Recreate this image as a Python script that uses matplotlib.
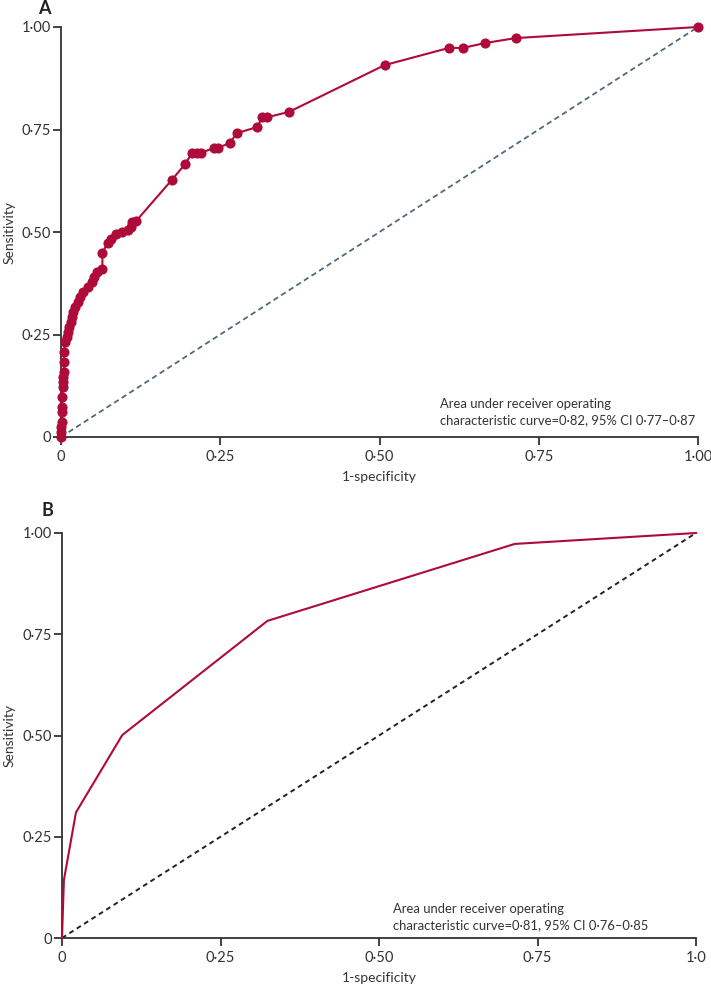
import matplotlib
matplotlib.use("Agg")
import matplotlib.pyplot as plt

plt.rcParams['font.family'] = ['Lato', 'DejaVu Sans']

# Panel A data (1-specificity, sensitivity)
fpr_a = [0, 0, 0, 0.0016, 0.0016, 0.0016, 0.0016, 0.003, 0.003, 0.003, 0.005, 0.005,
         0.005, 0.006, 0.009, 0.011, 0.013, 0.016, 0.017, 0.019, 0.022, 0.026, 0.030,
         0.035, 0.042, 0.048, 0.052, 0.057, 0.065, 0.065, 0.073, 0.078, 0.087, 0.095,
         0.105, 0.110, 0.112, 0.118, 0.174, 0.195, 0.206, 0.213, 0.220, 0.240, 0.246,
         0.265, 0.276, 0.308, 0.316, 0.324, 0.358, 0.508, 0.609, 0.631, 0.666, 0.714, 1.0]
tpr_a = [0, 0.012, 0.024, 0.037, 0.061, 0.073, 0.098, 0.122, 0.134, 0.146, 0.159, 0.183,
         0.207, 0.232, 0.244, 0.256, 0.268, 0.280, 0.293, 0.305, 0.317, 0.329, 0.341,
         0.354, 0.366, 0.378, 0.390, 0.402, 0.410, 0.449, 0.473, 0.483, 0.495, 0.500,
         0.505, 0.512, 0.524, 0.527, 0.627, 0.666, 0.693, 0.693, 0.693, 0.705, 0.705,
         0.717, 0.741, 0.756, 0.780, 0.780, 0.793, 0.907, 0.949, 0.949, 0.961, 0.973, 1.0]

# Panel B data
fpr_b = [0, 0.003, 0.022, 0.095, 0.324, 0.714, 1.0]
tpr_b = [0, 0.143, 0.310, 0.501, 0.783, 0.973, 1.0]

ticks = [0, 0.25, 0.5, 0.75, 1.0]
tick_labels = ["0", "0·25", "0·50", "0·75", "1·00"]
tick_labels_bx = ["0", "0·25", "0·50", "0·75", "1·0"]

text_a = "Area under receiver operating\ncharacteristic curve=0·82, 95% CI 0·77–0·87"
text_b = "Area under receiver operating\ncharacteristic curve=0·81, 95% CI 0·76–0·85"

RED = '#AE0B3A'
TXT = '#333333'
W, H = 711, 985
fig = plt.figure(figsize=(W / 100, H / 100), dpi=100)

def box(l, t, r, b):
    return [l / W, 1 - b / H, (r - l) / W, (b - t) / H]

axA = fig.add_axes(box(61, 27, 698, 437))
axB = fig.add_axes(box(62, 533, 696, 938))

def style(ax, xlabels):
    ax.set_xlim(0, 1)
    ax.set_ylim(0, 1)
    for s in ['top', 'right']:
        ax.spines[s].set_visible(False)
    for s in ['left', 'bottom']:
        ax.spines[s].set_color(TXT)
        ax.spines[s].set_linewidth(1.3)
    ax.set_xticks(ticks)
    ax.set_xticklabels(xlabels)
    ax.set_yticks(ticks)
    ax.set_yticklabels(tick_labels)
    ax.tick_params(direction='out', length=6, width=1.3, color=TXT,
                   labelsize=10.5, labelcolor=TXT)
    ax.tick_params(axis='y', pad=1.5)
    ax.tick_params(axis='x', pad=3.5)
    ax.set_xlabel("1-specificity", fontsize=10, color=TXT, labelpad=5)
    ax.set_ylabel("Sensitivity", fontsize=10, color=TXT)

style(axA, tick_labels)
axA.plot([0, 1], [0, 1], linestyle=(0, (3, 2)), color='#4D6B78', lw=1.3, zorder=2)
axA.plot(fpr_a, tpr_a, color=RED, lw=1.5, marker='o', markersize=7.3,
         markeredgewidth=0, clip_on=False, zorder=3)
axA.yaxis.set_label_coords(-0.072, 0.5)

style(axB, tick_labels_bx)
axB.plot([0, 1], [0, 1], linestyle=(0, (2.5, 2)), color='#222222', lw=1.4, zorder=2)
axB.plot(fpr_b, tpr_b, color=RED, lw=1.5, clip_on=False, zorder=3)
axB.yaxis.set_label_coords(-0.073, 0.5)

fig.text(695 / W, 1 - 412 / H, text_a, fontsize=9.4, color=TXT, ha='right',
         va='center', multialignment='left', linespacing=1.4)
fig.text(648 / W, 1 - 917 / H, text_b, fontsize=9.4, color=TXT, ha='right',
         va='center', multialignment='left', linespacing=1.4)

fig.text(44 / W, 1 - 8 / H, "A", fontsize=13, fontweight='bold', color='#222222',
         ha='center', va='center')
fig.text(47 / W, 1 - 511 / H, "B", fontsize=13, fontweight='bold', color='#222222',
         ha='center', va='center')

fig.savefig("out.png", dpi=100)
